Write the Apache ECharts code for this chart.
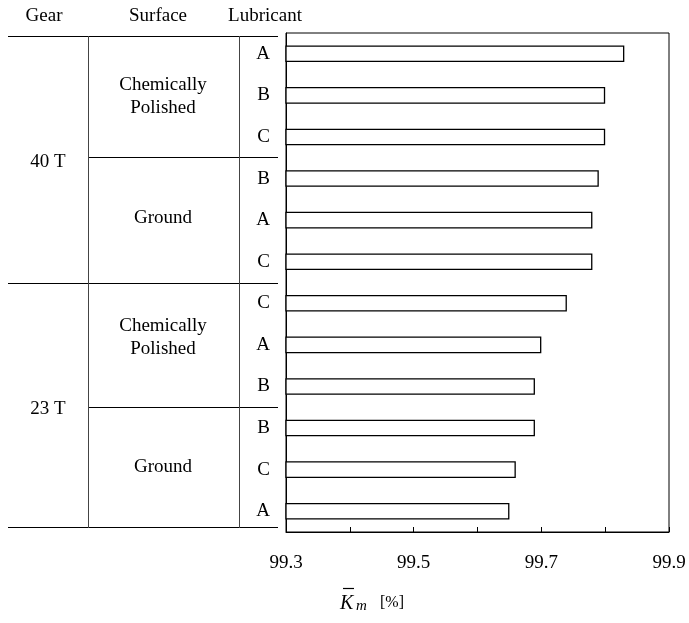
<!DOCTYPE html>
<html>
<head>
<meta charset="utf-8">
<script src="https://cdn.jsdelivr.net/npm/echarts@6/dist/echarts.min.js"></script>
<style>
  html, body { margin: 0; padding: 0; background: #fff; }
  #chart { width: 689px; height: 623px; }
</style>
</head>
<body>
<div id="chart"></div>
<script>
// Lubricant labels, top to bottom
var lubricants = ['A', 'B', 'C', 'B', 'A', 'C', 'C', 'A', 'B', 'B', 'C', 'A'];
// Mean efficiency K̄m [%] for each row
var kmValues = [99.83, 99.80, 99.80, 99.79, 99.78, 99.78, 99.74, 99.70, 99.69, 99.69, 99.66, 99.65];
// Grouping columns
var gears = ['40 T', '23 T'];
var surfaces = ['Chemically\nPolished', 'Ground', 'Chemically\nPolished', 'Ground'];
var xTicks = [99.3, 99.5, 99.7, 99.9];

var FONT = '"Liberation Serif", "Times New Roman", serif';
var chart = echarts.init(document.getElementById('chart'), null, { renderer: 'canvas' });

function txt(x, y, s, size, extra) {
  var style = { text: s, x: x, y: y, fill: '#000', font: size + 'px ' + FONT,
    align: 'center', verticalAlign: 'middle', lineHeight: 23 };
  if (extra) for (var k in extra) style[k] = extra[k];
  return { type: 'text', style: style, silent: true };
}
function line(x1, y1, x2, y2, c, w) {
  return { type: 'line', shape: { x1: x1, y1: y1, x2: x2, y2: y2 },
    style: { stroke: c || '#000', lineWidth: w || 1 }, silent: true, z: 10 };
}

var graphics = [
  txt(44, 16, 'Gear', 19),
  txt(158, 16, 'Surface', 19),
  txt(265, 16, 'Lubricant', 19),
  // table rules
  line(8, 36.5, 278, 36.5),
  line(88, 157.5, 278, 157.5),
  line(8, 283.5, 278, 283.5),
  line(88, 407.5, 278, 407.5),
  line(8, 527.5, 278, 527.5),
  line(88.5, 36, 88.5, 528, '#444'),
  line(239.5, 36, 239.5, 528, '#444'),
  // group labels
  txt(48, 162, gears[0], 19),
  txt(48, 409, gears[1], 19),
  txt(163, 97, surfaces[0], 19),
  txt(163, 218, surfaces[1], 19),
  txt(163, 338, surfaces[2], 19),
  txt(163, 467, surfaces[3], 19),
  // axis title: K̄m [%]
  txt(340, 604, 'K', 20, { align: 'left', font: 'italic 20px ' + FONT }),
  txt(356, 606, 'm', 15, { align: 'left', font: 'italic 15px ' + FONT }),
  txt(380, 603, '[%]', 16, { align: 'left' }),
  line(343, 588.5, 354, 588.5, '#000', 1.2)
];

chart.setOption({
  animation: false,
  backgroundColor: '#fff',
  grid: { left: 286, right: 20, top: 33, bottom: 91, show: true,
    borderColor: '#000', borderWidth: 1, backgroundColor: 'transparent' },
  xAxis: {
    type: 'value', min: 99.3, max: 99.9, interval: 0.1,
    axisLine: { show: true, lineStyle: { color: '#000', width: 1 } },
    axisTick: { show: true, inside: true, length: 5, lineStyle: { color: '#000' } },
    splitLine: { show: false },
    axisLabel: {
      color: '#000', fontFamily: FONT, fontSize: 19, margin: 22,
      formatter: function (v) {
        var hit = xTicks.some(function (t) { return Math.abs(t - v) < 1e-6; });
        return hit ? v.toFixed(1) : '';
      }
    }
  },
  yAxis: {
    type: 'category', data: lubricants, inverse: true,
    axisLine: { show: true, lineStyle: { color: '#000', width: 1 } },
    axisTick: { show: false },
    axisLabel: { color: '#000', fontFamily: FONT, fontSize: 19, margin: 16 }
  },
  series: [{
    type: 'bar', data: kmValues, barWidth: '40%',
    itemStyle: { color: '#fff', borderColor: '#000', borderWidth: 1.3 },
    silent: true
  }],
  graphic: graphics
});
</script>
</body>
</html>
